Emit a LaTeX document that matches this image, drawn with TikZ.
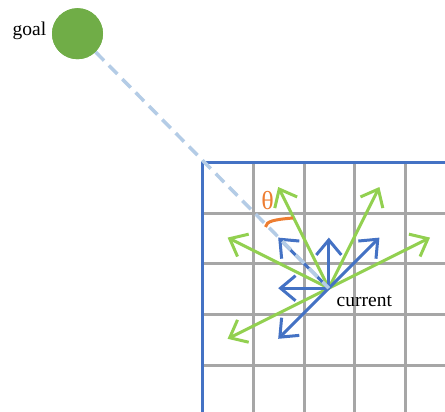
\documentclass[tikz,border=0pt]{standalone}
\usepackage{fontspec}
\setmainfont{Liberation Serif}
\usetikzlibrary{arrows.meta}
\definecolor{gridgray}{RGB}{166,166,166}
\definecolor{gridblue}{RGB}{68,114,196}
\definecolor{movegreen}{RGB}{146,208,80}
\definecolor{goalgreen}{RGB}{112,173,71}
\definecolor{pathblue}{RGB}{180,204,230}
\definecolor{angleorange}{RGB}{237,125,49}
\tikzset{
  gridline/.style={draw=gridgray, line width=3pt},
  border/.style={draw=gridblue, line width=3pt},
  movearrow/.style={line width=3pt, -{Straight Barb[length=15pt,width=25pt]}},
  knight/.style={movearrow, draw=movegreen},
  king/.style={movearrow, draw=gridblue},
  sightline/.style={draw=pathblue, line width=3.5pt, dash pattern=on 12pt off 7pt},
  lbl/.style={inner sep=0pt, font=\fontsize{19.5}{22}\selectfont},
  goalmark/.style={circle, fill=goalgreen, minimum size=51pt, inner sep=0pt},
}
\begin{document}
\begin{tikzpicture}[x=1pt,y=-1pt]
  \useasboundingbox (0,0) rectangle (445,412);
  \clip (0,0) rectangle (445,412);

  % grid cells
  \foreach \gx in {253.4,304.1,354.8,405.5}
    \draw[gridline] (\gx,162.5) -- (\gx,415);
  \foreach \gy in {213.2,263.9,314.6,365.3}
    \draw[gridline] (202.7,\gy) -- (448,\gy);
  \draw[border] (448,162.5) -- (202.7,162.5) -- (202.7,415);

  % the agent's cell and the goal
  \coordinate (current) at (328.8,288.2);
  \node[goalmark] (goal) at (77.5,33.7) {};
  \node[lbl, anchor=base west] (goallabel) at (12.5,36) {goal};
  \node[lbl, anchor=base west] (currentlabel) at (336.5,306.5) {current};

  % move targets, one cell = 50.6pt, y pointing up
  \begin{scope}[shift={(current)}, x=50.6pt, y=50.6pt]
    \coordinate (kA) at (-1,2);
    \coordinate (kB) at (1,2);
    \coordinate (kC) at (-2,1);
    \coordinate (kD) at (2,1);
    \coordinate (kE) at (-2,-1);
    \coordinate (mN) at (0,1);
    \coordinate (mNE) at (1,1);
    \coordinate (mNW) at (-1,1);
    \coordinate (mW) at (-1,0);
    \coordinate (mSW) at (-1,-1);
  \end{scope}

  % knight-style moves
  \foreach \t in {kA,kB,kC,kD,kE}
    \draw[knight] (current) -- (\t);
  % single-cell moves
  \foreach \t in {mN,mNE,mNW,mW,mSW}
    \draw[king] (current) -- (\t);

  % line of sight to the goal
  \draw[sightline] (goal) -- (current);
  \node[goalmark] at (goal.center) {};

  % angle between the heading and the goal direction
  \draw[draw=angleorange, line width=3pt]
    (265.5,227) .. controls (266,221) and (275,219.5) .. (293,218);
  \node[inner sep=0pt, text=angleorange, font=\fontsize{26}{28}\selectfont] (theta) at (267.7,200.5) {θ};
\end{tikzpicture}
\end{document}
